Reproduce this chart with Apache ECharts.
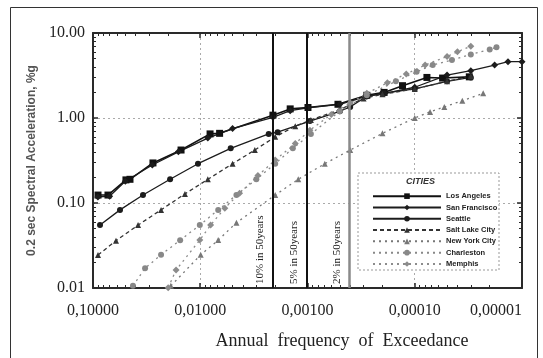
<!DOCTYPE html>
<html>
<head>
<meta charset="utf-8">
<script src="https://cdn.jsdelivr.net/npm/echarts@6/dist/echarts.min.js"></script>
<style>
  html, body { margin: 0; padding: 0; background: #fff; }
  #chart { width: 543px; height: 358px; }
</style>
</head>
<body>
<div id="chart"></div>
<script>
// [annual frequency, 0.2 sec SA (g)]
const cities = ['Los Angeles', 'San Francisco', 'Seattle', 'Salt Lake City', 'New York City', 'Charleston', 'Memphis']

const losAngeles = [[0.0898, 0.124], [0.0725, 0.124], [0.0493, 0.187], [0.0452, 0.19], [0.0276, 0.296], [0.0151, 0.42],
  [0.0081, 0.65], [0.0066, 0.66], [0.0021, 1.08], [0.00145, 1.28], [0.00099, 1.33], [0.00052, 1.45], [0.00028, 1.85],
  [0.000193, 2.0], [0.00013, 2.4], [0.000077, 3.0], [0.000055, 2.95], [0.000031, 3.05]]
const sanFrancisco = [[0.09, 0.118], [0.07, 0.12], [0.05, 0.18], [0.028, 0.28], [0.016, 0.4], [0.0085, 0.58], [0.005, 0.75],
  [0.0021, 1.02], [0.00145, 1.22], [0.00099, 1.32], [0.0005, 1.45], [0.00028, 1.8], [0.00019, 1.95], [0.0001, 2.3],
  [0.00005, 3.2], [0.00003, 3.6], [0.000018, 4.2], [0.0000135, 4.6], [0.00001, 4.6]]
const seattle = [[0.086, 0.055], [0.056, 0.083], [0.0342, 0.124], [0.0191, 0.19], [0.0105, 0.29], [0.0052, 0.44],
  [0.0023, 0.65], [0.0019, 0.68], [0.00095, 0.92], [0.0005, 1.2], [0.0004, 1.35], [0.00028, 1.8], [0.0002, 1.95],
  [0.0001, 2.2], [0.00005, 2.7], [0.00003, 3.0]]
const saltLakeCity = [[0.0898, 0.0244], [0.061, 0.036], [0.038, 0.055], [0.0232, 0.083], [0.0139, 0.128], [0.0085, 0.19],
  [0.005, 0.29], [0.0031, 0.42], [0.002, 0.6], [0.0013, 0.8], [0.00093, 0.95], [0.0005, 1.25], [0.0003, 1.7],
  [0.0002, 1.9], [0.0001, 2.2], [0.00005, 2.7], [0.00003, 3.1]]
const newYorkCity = [[0.0188, 0.0106], [0.0099, 0.0246], [0.0068, 0.0366], [0.0046, 0.0587], [0.002, 0.124], [0.00122, 0.19],
  [0.00069, 0.29], [0.0004, 0.42], [0.0002, 0.66], [0.0001, 1.0], [0.000072, 1.18], [0.000053, 1.35], [0.000036, 1.6],
  [0.000023, 1.95]]
const charleston = [[0.0424, 0.0106], [0.0327, 0.0171], [0.0232, 0.0246], [0.0154, 0.0365], [0.0101, 0.055], [0.0068, 0.083],
  [0.0046, 0.124], [0.003, 0.19], [0.002, 0.29], [0.00137, 0.44], [0.00093, 0.65], [0.0005, 1.2], [0.00028, 1.85],
  [0.00015, 2.7], [0.000096, 3.5], [0.000068, 4.2], [0.000045, 4.8], [0.00003, 5.6], [0.00002, 6.4], [0.0000173, 6.8]]
const memphis = [[0.0199, 0.0101], [0.0168, 0.0163], [0.0101, 0.0366], [0.008, 0.055], [0.0059, 0.087], [0.0043, 0.13],
  [0.0029, 0.21], [0.002, 0.32], [0.0013, 0.5], [0.00095, 0.72], [0.0006, 1.1], [0.0004, 1.5], [0.00028, 1.95],
  [0.00018, 2.6], [0.00012, 3.3], [0.00008, 4.2], [0.00005, 5.3], [0.00004, 6.0], [0.00003, 7.0]]

// design levels: 10%, 5%, 2% in 50 years
const designFreqs = [1 / 475, 1 / 975, 1 / 2475]
const designLabels = ['10% in 50years', '5% in 50years', '2% in 50years']

const xLabels = ['0,10000', '0,01000', '0,00100', '0,00010', '0,00001']
const yLabels = ['0.01', '0.10', '1.00', '10.00']
const xTitle = 'Annual  frequency  of  Exceedance'
const yTitle = '0.2 sec Spectral Acceleration, %g'

const yMin = 0.01
const yMax = 10

const chart = echarts.init(document.getElementById('chart'), null, { renderer: 'canvas' })

const frameColor = '#2a2a2a'
const serif = '"Liberation Serif", "Times New Roman", serif'

const xLabelOf = v => xLabels[Math.round(-Math.log10(v)) - 1] || ''
const yLabelOf = v => yLabels[Math.round(Math.log10(v)) + 2] || ''

const baseX = {
  type: 'log',
  logBase: 10,
  min: 0.00001,
  max: 0.1,
  inverse: true,
  axisLine: { show: true, lineStyle: { color: frameColor, width: 2 } },
  axisTick: { show: true, inside: true, length: 5, lineStyle: { color: frameColor, width: 1.5 } },
  minorTick: { show: true, splitNumber: 9, length: 3, lineStyle: { color: frameColor } }
}
const baseY = {
  type: 'log',
  logBase: 10,
  min: yMin,
  max: yMax,
  axisLine: { show: true, lineStyle: { color: frameColor, width: 2 } },
  axisTick: { show: true, inside: true, length: 5, lineStyle: { color: frameColor, width: 1.5 } },
  minorTick: { show: true, splitNumber: 9, length: 3, lineStyle: { color: frameColor } }
}

const styles = [
  { color: '#111', type: 'solid', symbol: 'rect', size: 7, width: 1.6 },
  { color: '#1c1c1c', type: 'solid', symbol: 'diamond', size: 7, width: 1.3 },
  { color: '#1c1c1c', type: 'solid', symbol: 'circle', size: 6, width: 1.3 },
  { color: '#333', type: [4, 3], symbol: 'triangle', size: 6, width: 1.3 },
  { color: '#777', type: [2, 4], symbol: 'triangle', size: 6, width: 1.3 },
  { color: '#888', type: [2, 4], symbol: 'circle', size: 6, width: 1.3 },
  { color: '#8c8c8c', type: [2, 4], symbol: 'diamond', size: 7, width: 1.3 }
]
const datasets = [losAngeles, sanFrancisco, seattle, saltLakeCity, newYorkCity, charleston, memphis]

const series = cities.map((name, i) => ({
  name: name,
  type: 'line',
  data: datasets[i],
  symbol: styles[i].symbol,
  symbolSize: styles[i].size,
  showAllSymbol: true,
  itemStyle: { color: styles[i].color },
  lineStyle: { color: styles[i].color, width: styles[i].width, type: styles[i].type },
  z: 3
}))

// two explicit end points: a one-sided xAxis markLine breaks on log axes
series[0].markLine = {
  silent: true,
  symbol: 'none',
  animation: false,
  data: designFreqs.map((f, i) => [
    {
      coord: [f, yMin],
      lineStyle: { color: i === 2 ? '#8a8a8a' : '#111', width: i === 2 ? 2.5 : 2, type: 'solid' },
      label: {
        show: true,
        formatter: designLabels[i],
        position: 'insideStartTop',
        distance: [4, 7],
        fontFamily: serif,
        fontSize: 11,
        color: '#222'
      }
    },
    { coord: [f, yMax] }
  ])
}

const option = {
  backgroundColor: '#fff',
  animation: false,
  grid: { left: 93, right: 21, top: 33, bottom: 70 },
  legend: {
    data: cities,
    orient: 'vertical',
    left: 367,
    top: 187,
    itemWidth: 68,
    itemHeight: 7,
    itemGap: 3,
    textStyle: { fontFamily: '"Liberation Sans", Arial, sans-serif', fontSize: 7.5, fontWeight: 'bold', color: '#222', lineHeight: 8.3 },
    selectedMode: false,
    z: 5
  },
  graphic: [
    { type: 'rect', shape: { x: 10.5, y: 7.5, width: 527, height: 360 }, style: { fill: 'none', stroke: '#333', lineWidth: 1 }, z: 10 },
    { type: 'rect', shape: { x: 358, y: 173, width: 141, height: 97 }, style: { fill: '#fff', stroke: '#999', lineWidth: 1, lineDash: [2, 2] }, z: 4 },
    { type: 'text', left: 406, top: 177, style: { text: 'CITIES', font: 'italic bold 9px "Liberation Sans", Arial, sans-serif', fill: '#333' }, z: 5 },
    { type: 'text', x: 342, y: 341, style: { text: xTitle, font: '18px "Liberation Serif", "Times New Roman", serif', fill: '#222', textAlign: 'center', textVerticalAlign: 'middle' }, z: 5 }
  ],
  xAxis: [
    Object.assign({}, baseX, {
      position: 'bottom',
      axisLabel: { formatter: xLabelOf, margin: 15, fontFamily: serif, fontSize: 16, color: '#222', alignMinLabel: 'right' },
      splitLine: { show: true, lineStyle: { color: '#aaa', type: [2, 3], width: 1 } }
    }),
    Object.assign({}, baseX, { position: 'top', axisLabel: { show: false }, splitLine: { show: false } })
  ],
  yAxis: [
    Object.assign({}, baseY, {
      position: 'left',
      name: yTitle,
      nameLocation: 'middle',
      nameGap: 47,
      nameRotate: 90,
      nameTextStyle: { fontFamily: '"Liberation Sans", Arial, sans-serif', fontSize: 12, fontWeight: 'bold', color: '#555' },
      axisLabel: { formatter: yLabelOf, margin: 8, fontFamily: serif, fontSize: 16, color: '#222' },
      splitLine: { show: true, lineStyle: { color: '#aaa', type: [2, 3], width: 1 } }
    }),
    Object.assign({}, baseY, { position: 'right', axisLabel: { show: false }, splitLine: { show: false } })
  ],
  series: series
}

chart.setOption(option)
</script>
</body>
</html>
